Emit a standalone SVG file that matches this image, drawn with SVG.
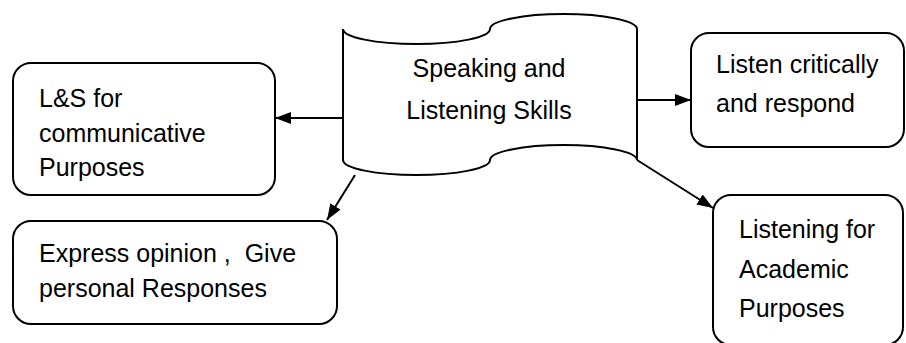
<svg xmlns="http://www.w3.org/2000/svg" width="906" height="343" viewBox="0 0 906 343">
  <style>
    .box { fill: #fff; stroke: #000; stroke-width: 2; }
    .lbl { font-family: "Liberation Sans", Arial, sans-serif; font-size: 25px; fill: #000; white-space: pre; }
    .edge { fill: none; stroke: #000; stroke-width: 2; marker-end: url(#arrow); }
  </style>
  <defs>
    <marker id="arrow" markerUnits="userSpaceOnUse" markerWidth="16" markerHeight="12" viewBox="0 0 16 12" refX="16" refY="6" orient="auto">
      <path d="M0,0 L16,6 L0,12 Z" fill="#000"/>
    </marker>
  </defs>
  <rect width="906" height="343" fill="#fff"/>

  <!-- central punched-tape shape -->
  <g id="skills">
    <path class="box" d="M343,29 A73.5,15 0 0 0 490,29 A73.5,15 0 0 1 637,29 L637,160 A73.5,15 0 0 0 490,160 A73.5,15 0 0 1 343,160 Z"/>
    <text class="lbl" x="489" y="77" text-anchor="middle">Speaking and</text>
    <text class="lbl" x="489" y="119" text-anchor="middle">Listening Skills</text>
  </g>

  <g id="communicative">
    <rect class="box" x="13" y="63" width="262" height="132" rx="18"/>
    <text class="lbl" x="39" y="107">L&amp;S for</text>
    <text class="lbl" x="39" y="142">communicative</text>
    <text class="lbl" x="39" y="176">Purposes</text>
  </g>

  <g id="opinion">
    <rect class="box" x="13" y="221" width="324" height="103" rx="18"/>
    <text class="lbl" x="39" y="262">Express opinion ,  Give</text>
    <text class="lbl" x="39" y="297">personal Responses</text>
  </g>

  <g id="critical">
    <rect class="box" x="691" y="33" width="213" height="114" rx="18"/>
    <text class="lbl" x="716" y="73">Listen critically</text>
    <text class="lbl" x="716" y="112">and respond</text>
  </g>

  <g id="academic">
    <rect class="box" x="713" y="195" width="190" height="150" rx="18"/>
    <text class="lbl" x="739" y="238">Listening for</text>
    <text class="lbl" x="739" y="278">Academic</text>
    <text class="lbl" x="739" y="317">Purposes</text>
  </g>

  <g id="connectors">
    <line class="edge" x1="343" y1="118" x2="275" y2="118"/>
    <line class="edge" x1="355" y1="175" x2="327" y2="220"/>
    <line class="edge" x1="637" y1="100" x2="691" y2="100"/>
    <line class="edge" x1="637" y1="160" x2="713" y2="208"/>
  </g>
</svg>
